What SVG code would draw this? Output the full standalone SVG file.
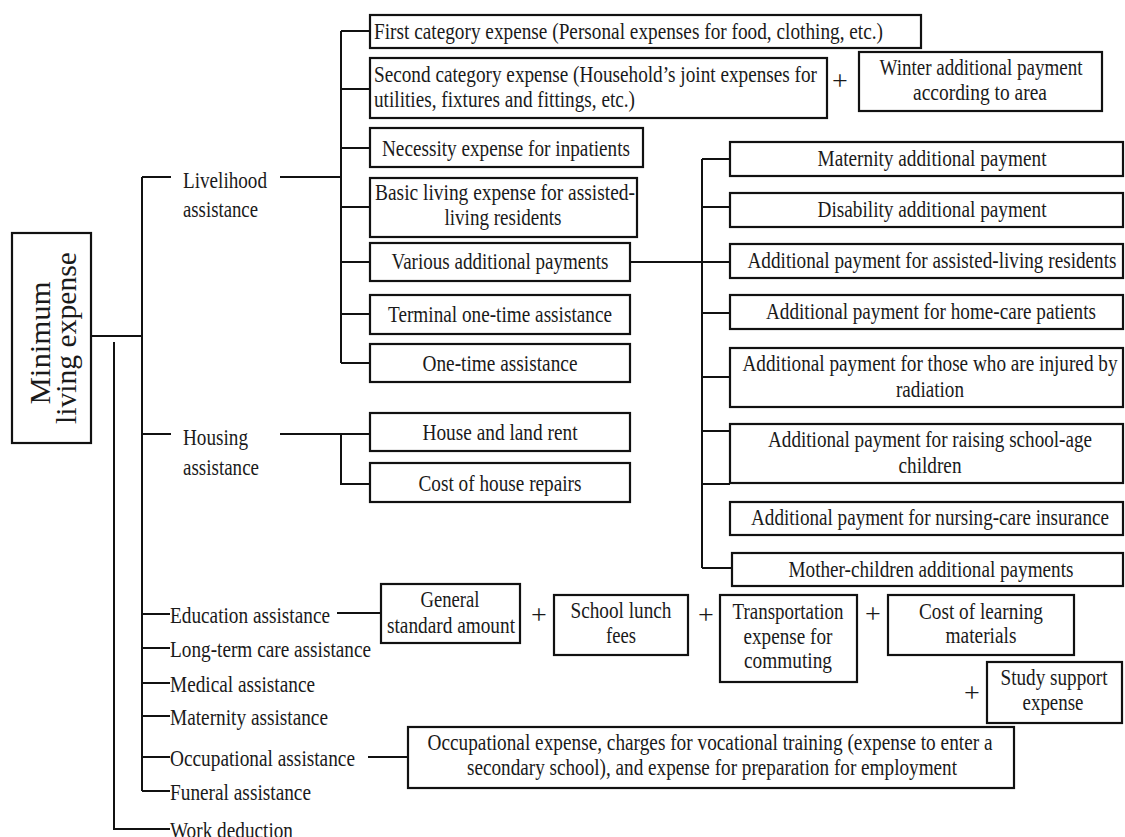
<svg xmlns="http://www.w3.org/2000/svg" width="1125" height="837" viewBox="0 0 1125 837">
<style>
.b{fill:#fff;stroke:#111;stroke-width:2.2}
.c{fill:none;stroke:#111;stroke-width:2}
text{font-family:"Liberation Serif","Times New Roman",serif;font-size:23px;fill:#1a1a1a}
.m{text-anchor:middle}
.p{font-size:28px;text-anchor:middle}
.big{font-size:29px;text-anchor:middle}
</style>
<rect width="1125" height="837" fill="#fff"/>
<g id="connectors">
<path class="c" d="M91 336H142M142 177V791M142 177H171M142 434H171M142 614H170M142 648H170M142 683H170M142 716H170M142 757H170M142 791H170M114 342V829H170"/>
<path class="c" d="M280 177H341M341 31V363M341 31H370M341 89H370M341 148H370M341 207H370M341 262H370M341 314H370M341 363H370"/>
<path class="c" d="M280 434H370M341 434V484H370"/>
<path class="c" d="M630 262H730M702 159V568M702 159H730M702 207H730M702 262H730M702 313H730M702 377H730M702 431H730M702 484H730M702 568H732"/>
<path class="c" d="M337 613H381M368 757H408"/>
</g>
<g id="root">
<rect class="b" x="12" y="233" width="79" height="210"/>
<text class="big" transform="translate(50,343) rotate(-90)" textLength="123" lengthAdjust="spacingAndGlyphs">Minimum</text>
<text class="big" transform="translate(76,338) rotate(-90)" textLength="172" lengthAdjust="spacingAndGlyphs">living expense</text>
</g>
<g id="livelihood">
<text x="183" y="188" textLength="84" lengthAdjust="spacingAndGlyphs">Livelihood</text>
<text x="183" y="217" textLength="75" lengthAdjust="spacingAndGlyphs">assistance</text>
</g>
<g id="housing">
<text x="183" y="445" textLength="65" lengthAdjust="spacingAndGlyphs">Housing</text>
<text x="183" y="475" textLength="76" lengthAdjust="spacingAndGlyphs">assistance</text>
</g>
<g id="education"><text x="170" y="623" textLength="160" lengthAdjust="spacingAndGlyphs">Education assistance</text></g>
<g id="longterm"><text x="170" y="657" textLength="201" lengthAdjust="spacingAndGlyphs">Long-term care assistance</text></g>
<g id="medical"><text x="170" y="692" textLength="145" lengthAdjust="spacingAndGlyphs">Medical assistance</text></g>
<g id="maternity"><text x="170" y="725" textLength="158" lengthAdjust="spacingAndGlyphs">Maternity assistance</text></g>
<g id="occupational"><text x="170" y="766" textLength="185" lengthAdjust="spacingAndGlyphs">Occupational assistance</text></g>
<g id="funeral"><text x="170" y="800" textLength="141" lengthAdjust="spacingAndGlyphs">Funeral assistance</text></g>
<g id="work"><text x="170" y="838" textLength="123" lengthAdjust="spacingAndGlyphs">Work deduction</text></g>

<g id="first"><rect class="b" x="370" y="15" width="551" height="33"/>
<text x="374" y="39" textLength="509" lengthAdjust="spacingAndGlyphs">First category expense (Personal expenses for food, clothing, etc.)</text></g>
<g id="second"><rect class="b" x="370" y="58" width="457" height="60"/>
<text x="374" y="82" textLength="443" lengthAdjust="spacingAndGlyphs">Second category expense (Household’s joint expenses for</text>
<text x="374" y="107" textLength="261" lengthAdjust="spacingAndGlyphs">utilities, fixtures and fittings, etc.)</text></g>
<text class="p" x="840" y="90">+</text>
<g id="winter"><rect class="b" x="859" y="52" width="243" height="59"/>
<text class="m" x="981" y="75" textLength="203" lengthAdjust="spacingAndGlyphs">Winter additional payment</text>
<text class="m" x="980" y="100" textLength="134" lengthAdjust="spacingAndGlyphs">according to area</text></g>
<g id="necessity"><rect class="b" x="370" y="128" width="273" height="39"/>
<text class="m" x="506" y="156" textLength="248" lengthAdjust="spacingAndGlyphs">Necessity expense for inpatients</text></g>
<g id="basic"><rect class="b" x="370" y="178" width="267" height="59"/>
<text class="m" x="505" y="200" textLength="260" lengthAdjust="spacingAndGlyphs">Basic living expense for assisted-</text>
<text class="m" x="503" y="225" textLength="117" lengthAdjust="spacingAndGlyphs">living residents</text></g>
<g id="various"><rect class="b" x="370" y="243" width="260" height="38"/>
<text class="m" x="500" y="269" textLength="217" lengthAdjust="spacingAndGlyphs">Various additional payments</text></g>
<g id="terminal"><rect class="b" x="370" y="295" width="260" height="39"/>
<text class="m" x="500" y="322" textLength="224" lengthAdjust="spacingAndGlyphs">Terminal one-time assistance</text></g>
<g id="onetime"><rect class="b" x="370" y="344" width="260" height="38"/>
<text class="m" x="500" y="371" textLength="155" lengthAdjust="spacingAndGlyphs">One-time assistance</text></g>
<g id="rent"><rect class="b" x="370" y="413" width="260" height="38"/>
<text class="m" x="500" y="440" textLength="155" lengthAdjust="spacingAndGlyphs">House and land rent</text></g>
<g id="repairs"><rect class="b" x="370" y="463" width="260" height="39"/>
<text class="m" x="500" y="491" textLength="163" lengthAdjust="spacingAndGlyphs">Cost of house repairs</text></g>

<g id="maternity-pay"><rect class="b" x="730" y="142" width="393" height="34"/>
<text class="m" x="932" y="166" textLength="229" lengthAdjust="spacingAndGlyphs">Maternity additional payment</text></g>
<g id="disability-pay"><rect class="b" x="730" y="193" width="393" height="34"/>
<text class="m" x="932" y="217" textLength="229" lengthAdjust="spacingAndGlyphs">Disability additional payment</text></g>
<g id="assisted-pay"><rect class="b" x="730" y="244" width="393" height="34"/>
<text class="m" x="932" y="268" textLength="369" lengthAdjust="spacingAndGlyphs">Additional payment for assisted-living residents</text></g>
<g id="homecare-pay"><rect class="b" x="730" y="295" width="393" height="34"/>
<text class="m" x="931" y="319" textLength="330" lengthAdjust="spacingAndGlyphs">Additional payment for home-care patients</text></g>
<g id="radiation-pay"><rect class="b" x="730" y="348" width="393" height="59"/>
<text class="m" x="930" y="371" textLength="375" lengthAdjust="spacingAndGlyphs">Additional payment for those who are injured by</text>
<text class="m" x="930" y="397" textLength="68" lengthAdjust="spacingAndGlyphs">radiation</text></g>
<g id="school-pay"><rect class="b" x="730" y="424" width="393" height="59"/>
<text class="m" x="930" y="447" textLength="324" lengthAdjust="spacingAndGlyphs">Additional payment for raising school-age</text>
<text class="m" x="930" y="473" textLength="63" lengthAdjust="spacingAndGlyphs">children</text></g>
<g id="nursing-pay"><rect class="b" x="730" y="502" width="393" height="33"/>
<text class="m" x="930" y="525" textLength="358" lengthAdjust="spacingAndGlyphs">Additional payment for nursing-care insurance</text></g>
<g id="mother-pay"><rect class="b" x="732" y="553" width="391" height="33"/>
<text class="m" x="931" y="577" textLength="285" lengthAdjust="spacingAndGlyphs">Mother-children additional payments</text></g>

<g id="general"><rect class="b" x="381" y="584" width="139" height="59"/>
<text class="m" x="450" y="607" textLength="59" lengthAdjust="spacingAndGlyphs">General</text>
<text class="m" x="451" y="633" textLength="128" lengthAdjust="spacingAndGlyphs">standard amount</text></g>
<text class="p" x="539" y="624">+</text>
<g id="lunch"><rect class="b" x="554" y="595" width="134" height="60"/>
<text class="m" x="621" y="618" textLength="101" lengthAdjust="spacingAndGlyphs">School lunch</text>
<text class="m" x="621" y="643" textLength="30" lengthAdjust="spacingAndGlyphs">fees</text></g>
<text class="p" x="706" y="624">+</text>
<g id="transport"><rect class="b" x="720" y="595" width="137" height="87"/>
<text class="m" x="788" y="619" textLength="111" lengthAdjust="spacingAndGlyphs">Transportation</text>
<text class="m" x="788" y="644" textLength="89" lengthAdjust="spacingAndGlyphs">expense for</text>
<text class="m" x="788" y="668" textLength="88" lengthAdjust="spacingAndGlyphs">commuting</text></g>
<text class="p" x="873" y="623">+</text>
<g id="learning"><rect class="b" x="888" y="595" width="186" height="60"/>
<text class="m" x="981" y="619" textLength="124" lengthAdjust="spacingAndGlyphs">Cost of learning</text>
<text class="m" x="981" y="643" textLength="71" lengthAdjust="spacingAndGlyphs">materials</text></g>
<text class="p" x="972" y="702">+</text>
<g id="study"><rect class="b" x="987" y="662" width="135" height="61"/>
<text class="m" x="1054" y="685" textLength="107" lengthAdjust="spacingAndGlyphs">Study support</text>
<text class="m" x="1053" y="710" textLength="61" lengthAdjust="spacingAndGlyphs">expense</text></g>

<g id="occupational-exp"><rect class="b" x="408" y="727" width="606" height="61"/>
<text class="m" x="710" y="750" textLength="565" lengthAdjust="spacingAndGlyphs">Occupational expense, charges for vocational training (expense to enter a</text>
<text class="m" x="712" y="775" textLength="490" lengthAdjust="spacingAndGlyphs">secondary school), and expense for preparation for employment</text></g>
</svg>
